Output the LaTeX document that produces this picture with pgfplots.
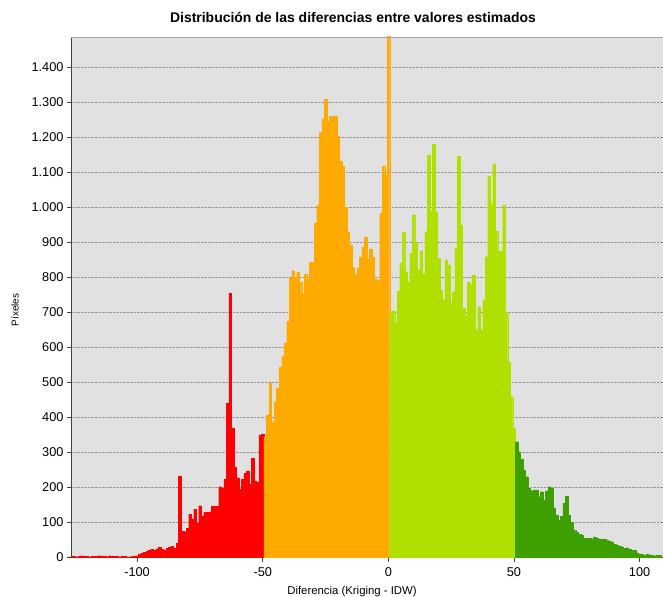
\documentclass[border=0pt]{standalone}
\usepackage{pgfplots}
\pgfplotsset{compat=1.18}
\usepackage{fontspec}
\setmainfont{Liberation Sans}
\definecolor{plotbg}{RGB}{225,225,225}
\definecolor{cred}{RGB}{255,0,0}
\definecolor{corange}{RGB}{255,170,0}
\definecolor{cyg}{RGB}{176,224,0}
\definecolor{cgreen}{RGB}{62,160,0}
\definecolor{gridc}{RGB}{150,150,150}
\begin{document}
\begin{tikzpicture}
\begin{axis}[
  at={(0,0)}, anchor=south west,
  scale only axis, width=592bp, height=520.5bp,
  xmin=-126.3, xmax=109.3, ymin=0, ymax=1486,
  axis background/.style={fill=plotbg},
  axis x line*=bottom, axis y line*=left,
  axis line style={black!75, line width=0.8pt},
  xtick={-100,-50,0,50,100}, ytick={0,100,...,1400},
  ymajorgrids, grid style={densely dotted, gridc, line width=0.5pt},
  tick align=outside, major tick length=4bp,
  tick style={black!75, line width=0.6pt},
  /pgf/number format/assume math mode=true,
  /pgf/number format/1000 sep={.},
  ticklabel style={font=\fontsize{12.8}{14}\selectfont},
  xticklabel style={yshift=-3bp},
  title={\bfseries Distribución de las diferencias entre valores estimados},
  title style={at={(axis description cs:0.4764,1.026)}, anchor=center, font=\fontsize{14}{16}\selectfont},
  xlabel={Diferencia (Kriging - IDW)},
  xlabel style={at={(axis description cs:0.4747,-0.0655)}, anchor=center, font=\fontsize{11.4}{13}\selectfont},
  ylabel={Píxeles},
  ylabel style={at={(axis description cs:-0.0946,0.4755)}, anchor=center, font=\fontsize{10}{12}\selectfont},
  clip=true,
]
\addplot[ybar, bar width=1, bar shift=0pt, fill=cred, draw=cred, line width=0.1pt] coordinates {
(-126,3) (-125,4) (-124,2) (-123,3) (-122,5) (-121,4) (-120,3) (-119,2) (-118,3) (-117,4)
(-116,3) (-115,5) (-114,4) (-113,3) (-112,2) (-111,5) (-110,4) (-109,3) (-108,3) (-107,2)
(-106,3) (-105,3) (-104,2) (-103,2) (-102,3) (-101,3)
(-100,5) (-99,10) (-98,12) (-97,15) (-96,17) (-95,22) (-94,23) (-93,21) (-92,25) (-91,29)
(-90,24) (-89,22) (-88,27) (-87,30) (-86,32) (-85,26) (-84,40) (-83,233) (-82,75) (-81,72)
(-80,83) (-79,124) (-78,110) (-77,138) (-76,99) (-75,148) (-74,118) (-73,129) (-72,129) (-71,130)
(-70,147) (-69,146) (-68,146) (-67,202) (-66,197) (-65,224) (-64,440) (-63,755) (-62,369) (-61,257)
(-60,228) (-59,195) (-58,224) (-57,240) (-56,247) (-55,210) (-54,283) (-53,219) (-52,214) (-51,350)
(-50,353)
};
\addplot[ybar, bar width=1, bar shift=0pt, fill=corange, draw=corange, line width=0.1pt] coordinates {
(-49,345) (-48,407) (-47,498) (-46,388) (-45,445) (-44,483) (-43,543) (-42,574) (-41,612) (-40,674)
(-39,797) (-38,819) (-37,800) (-36,815) (-35,786) (-34,753) (-33,809) (-32,795) (-31,843) (-30,843)
(-29,955) (-28,1005) (-27,1214) (-26,1253) (-25,1309) (-24,1245) (-23,1259) (-22,1259) (-21,1259) (-20,1202)
(-19,1131) (-18,1117) (-17,1000) (-16,928) (-15,893) (-14,829) (-13,807) (-12,826) (-11,857) (-10,886)
(-9,915) (-8,852) (-7,881) (-6,857) (-5,795) (-4,791) (-3,983) (-2,1117) (-1,1093) (0,1600)
};
\addplot[ybar, bar width=1, bar shift=0pt, fill=cyg, draw=cyg, line width=0.1pt] coordinates {
(1,704) (2,704) (3,669) (4,760) (5,840) (6,929) (7,816) (8,787) (9,869) (10,979)
(11,900) (12,822) (13,876) (14,810) (15,930) (16,1149) (17,988) (18,1180) (19,985) (20,855)
(21,764) (22,736) (23,850) (24,836) (25,726) (26,759) (27,883) (28,1145) (29,950) (30,712)
(31,690) (32,786) (33,779) (34,807) (35,650) (36,716) (37,650) (38,736) (39,859) (40,1088)
(41,1010) (42,1124) (43,931) (44,874) (45,874) (46,1007) (47,700) (48,559) (49,459) (50,369)
};
\addplot[ybar, bar width=1, bar shift=0pt, fill=cgreen, draw=cgreen, line width=0.1pt] coordinates {
(51,331) (52,302) (53,280) (54,250) (55,231) (56,197) (57,191) (58,193) (59,193) (60,174)
(61,188) (62,164) (63,190) (64,202) (65,197) (66,140) (67,121) (68,107) (69,117) (70,155)
(71,176) (72,121) (73,100) (74,78) (75,72) (76,67) (77,64) (78,55) (79,55) (80,55)
(81,53) (82,59) (83,56) (84,53) (85,52) (86,52) (87,50) (88,46) (89,44) (90,38)
(91,35) (92,33) (93,31) (94,26) (95,28) (96,24) (97,21) (98,21) (99,14) (100,10)
(101,9) (102,7) (103,9) (104,8) (105,7) (106,5) (107,7) (108,7)
};
\draw[black!35, line width=0.8pt] (rel axis cs:0,1) -- (rel axis cs:1,1);
\end{axis}
\pgfresetboundingbox
\path[use as bounding box] (-71bp,-39.5bp) rectangle (592bp,557.5bp);
\end{tikzpicture}
\end{document}
